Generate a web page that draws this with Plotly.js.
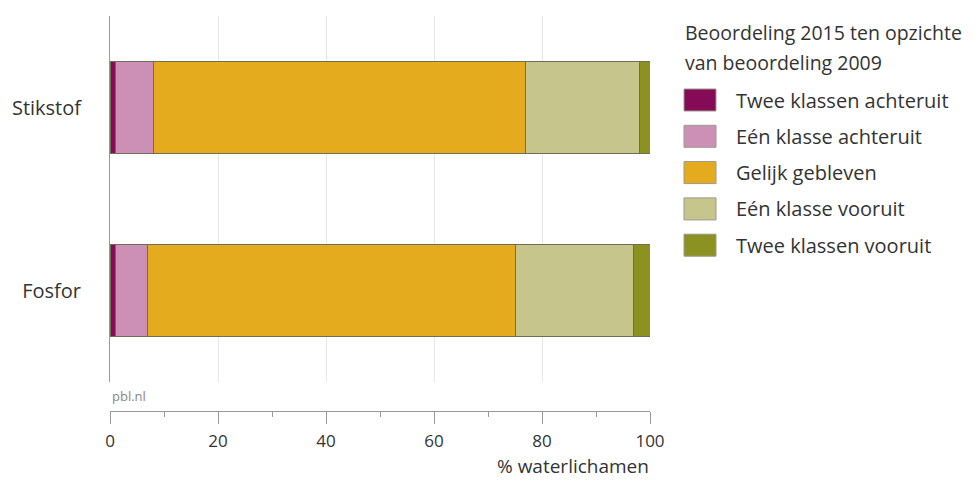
<!DOCTYPE html>
<html><head><meta charset="utf-8">
<script src="https://cdn.plot.ly/plotly-3.0.1.min.js"></script>
<style>html,body{margin:0;padding:0;background:#fff}</style>
</head><body><div id="chart" style="width:980px;height:481px"></div>
<script>
const categories = ["Stikstof", "Fosfor"];
const seriesNames = ["Twee klassen achteruit", "Eén klasse achteruit", "Gelijk gebleven", "Eén klasse vooruit", "Twee klassen vooruit"];
const tweeAchteruit = [1, 1];
const eenAchteruit = [7, 6];
const gelijk = [69, 68];
const eenVooruit = [21, 22];
const tweeVooruit = [2, 3];
const xTicks = [0, 20, 40, 60, 80, 100];
const legendTitleLines = ["Beoordeling 2015 ten opzichte", "van beoordeling 2009"];
const xTitle = "% waterlichamen";
const sourceLabel = "pbl.nl";

const colors = ["#850b57", "#cc8fb6", "#e5ab1f", "#c6c58c", "#8b9222"];
const values = [tweeAchteruit, eenAchteruit, gelijk, eenVooruit, tweeVooruit];
const FONT = "Open Sans, Lato, sans-serif";
const TXT = "#333";
const FS = 20;

const traces = values.map((v, i) => ({
  type: "bar", orientation: "h", name: seriesNames[i],
  y: categories, x: v, width: 0.505,
  marker: {color: colors[i], line: {color: "#6e6d55", width: 1}},
  showlegend: false, hoverinfo: "x+name"
}));

const W = 980, H = 481;
const shapes = [], annotations = [];
// custom legend
legendTitleLines.forEach((t, i) => {
  annotations.push({xref: "paper", yref: "paper", x: 683/W, y: 1 - (33 + i * 29)/H, xanchor: "left", yanchor: "middle",
    text: t, showarrow: false, align: "left", font: {family: FONT, size: 19.5, color: TXT}});
});
seriesNames.forEach((n, i) => {
  const cy = 100 + i * 36.3;
  shapes.push({type: "rect", xref: "paper", yref: "paper", x0: 684/W, x1: 716/W,
    y0: 1 - (cy + 11)/H, y1: 1 - (cy - 11)/H, fillcolor: colors[i], line: {color: "#9a9a8a", width: 1}});
  annotations.push({xref: "paper", yref: "paper", x: 734/W, y: 1 - cy/H, xanchor: "left", yanchor: "middle",
    text: n, showarrow: false, font: {family: FONT, size: FS, color: TXT}});
});
annotations.push({xref: "paper", yref: "paper", x: 651/W, y: 1 - 466/H, xanchor: "right", yanchor: "middle",
  text: xTitle, showarrow: false, font: {family: FONT, size: 19, color: TXT}});
annotations.push({xref: "paper", yref: "paper", x: 110/W, y: 1 - 396/H, xanchor: "left", yanchor: "middle",
  text: sourceLabel, showarrow: false, font: {family: FONT, size: 13, color: "#888"}});

const layout = {
  width: W, height: H, margin: {l: 0, r: 0, t: 0, b: 0},
  paper_bgcolor: "#fff", plot_bgcolor: "#fff",
  barmode: "stack", showlegend: false,
  font: {family: FONT, color: TXT},
  xaxis: {
    domain: [110/W, 650/W], range: [0, 100], anchor: "free", position: 1 - 411/H,
    tickvals: xTicks, ticks: "outside", ticklen: 12, tickcolor: "#999", tickwidth: 1,
    minor: {dtick: 10, tick0: 0, ticks: "outside", ticklen: 5, tickcolor: "#999", showgrid: false},
    showline: true, linecolor: "#999", linewidth: 1, ticklabelstandoff: 3,
    showgrid: true, gridcolor: "#e8e8e8", gridwidth: 1, zeroline: false,
    tickfont: {family: FONT, size: 17, color: TXT}, fixedrange: true
  },
  yaxis: {
    domain: [1 - 382/H, 1 - 16/H], range: [1.5, -0.5], type: "category",
    showline: true, linecolor: "#999", linewidth: 1, ticks: "", showgrid: false, zeroline: false,
    ticklabelstandoff: 24, tickfont: {family: FONT, size: FS, color: TXT}, fixedrange: true
  },
  shapes: shapes, annotations: annotations
};
Plotly.newPlot("chart", traces, layout, {displayModeBar: false, staticPlot: true});
</script></body></html>
